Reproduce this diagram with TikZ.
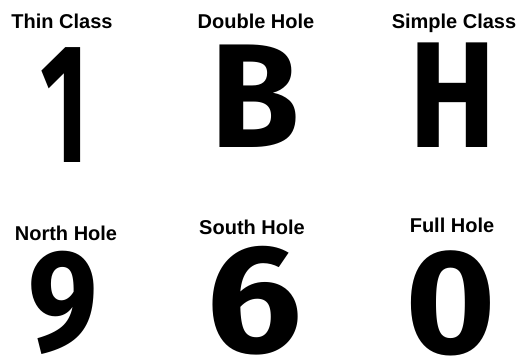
\documentclass[tikz,border=0pt]{standalone}
\usepackage{fontspec}
\setmainfont{Liberation Sans}
\newfontfamily\digitfont{Fira Sans}
\usetikzlibrary{positioning}

\begin{document}
\begin{tikzpicture}[
    x=1pt, y=-1pt,
    every node/.style={inner sep=0pt},
    caption/.style={anchor=base, font=\fontsize{20}{24}\selectfont\bfseries},
    glyph/.style={anchor=base, font=\digitfont\fontsize{100}{100}\selectfont\bfseries}
]
\useasboundingbox (0,0) rectangle (523,360);

% --- Row 1 ---
\node[caption] (thin) at (62,28) {Thin Class};
\node[caption] (double) at (256,28) {Double Hole};
\node[caption] (simple) at (454,28) {Simple Class};
\node[glyph] (one) at (65,162) {\scalebox{1.05}[1.70]{1}};
\node[glyph] (bee) at (255,147) {\scalebox{1.45}[1.48]{B}};
\node[glyph] (aitch) at (452.5,147) {\scalebox{1.30}[1.51]{H}};

% --- Row 2 ---
\node[caption] (north) at (66,240) {North Hole};
\node[caption] (south) at (252,234) {South Hole};
\node[caption] (full) at (452,232) {Full Hole};
\node[glyph] (nine) at (63,350) {\scalebox{1.24}[1.44]{9}};
\node[glyph] (six) at (254.5,352) {\scalebox{1.70}[1.54]{6}};
\node[glyph] (zero) at (451,353) {\scalebox{1.55}[1.49]{0}};

\end{tikzpicture}
\end{document}
